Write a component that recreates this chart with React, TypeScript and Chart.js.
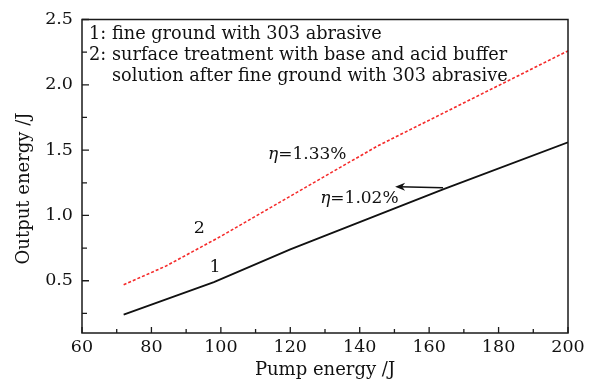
import React, { useEffect, useRef } from "react";
import { Chart, registerables } from "chart.js";

Chart.register(...registerables);

// ---- data ----
const pumpEnergy1 = [72, 98, 120, 164, 200];
const outputEnergy1 = [0.24, 0.49, 0.74, 1.2, 1.56];
const pumpEnergy2 = [72, 84, 100, 113, 145, 200];
const outputEnergy2 = [0.47, 0.61, 0.84, 1.04, 1.53, 2.26];
const xMajorTicks = [60, 80, 100, 120, 140, 160, 180, 200];
const xMinorTicks = [70, 90, 110, 130, 150, 170, 190];
const yMajorTicks = [0.5, 1.0, 1.5, 2.0, 2.5];
const yMinorTicks = [0.25, 0.75, 1.25, 1.75, 2.25];
const legendLines = [
  { tag: "1:", text: "fine ground with 303 abrasive" },
  { tag: "2:", text: "surface treatment with base and acid buffer" },
  { tag: "", text: "solution after fine ground with 303 abrasive" },
];
const xTitle = "Pump energy /J";
const yTitle = "Output energy /J";
const etaLabels = [
  { value: "=1.33%", x: 113.6, y: 1.432 },
  { value: "=1.02%", x: 128.6, y: 1.098 },
];
const curveLabels = [
  { text: "2", x: 93.8, y: 0.864 },
  { text: "1", x: 98.3, y: 0.568 },
];
const arrowFrom = { x: 164, y: 1.212 };
const arrowTo = { x: 150.2, y: 1.22 };

const FONT = '"DejaVu Serif", "Liberation Serif", serif';

const decorPlugin = {
  id: "decor",
  afterDraw(chart: any) {
    const ctx = chart.ctx as CanvasRenderingContext2D;
    const { left, right, top, bottom } = chart.chartArea;
    const xs = chart.scales.x;
    const ys = chart.scales.y;
    ctx.save();
    // frame
    ctx.strokeStyle = "#1a1a1a";
    ctx.lineWidth = 1.5;
    ctx.strokeRect(left, top, right - left, bottom - top);
    // ticks
    ctx.lineWidth = 1.3;
    ctx.beginPath();
    xMajorTicks.forEach((v) => {
      const px = xs.getPixelForValue(v);
      ctx.moveTo(px, bottom);
      ctx.lineTo(px, bottom - 6);
    });
    xMinorTicks.forEach((v) => {
      const px = xs.getPixelForValue(v);
      ctx.moveTo(px, bottom);
      ctx.lineTo(px, bottom - 4);
    });
    yMajorTicks.forEach((v) => {
      const py = ys.getPixelForValue(v);
      ctx.moveTo(left, py);
      ctx.lineTo(left + 7, py);
    });
    yMinorTicks.forEach((v) => {
      const py = ys.getPixelForValue(v);
      ctx.moveTo(left, py);
      ctx.lineTo(left + 5, py);
    });
    ctx.stroke();

    ctx.fillStyle = "#111";
    ctx.textBaseline = "alphabetic";
    // legend text
    ctx.font = `17.7px ${FONT}`;
    legendLines.forEach((l, i) => {
      const by = top + 19 + i * 21;
      ctx.textAlign = "left";
      if (l.tag) ctx.fillText(l.tag, left + 7, by);
      ctx.fillText(l.text, left + 30, by);
    });
    // curve labels
    ctx.font = `17.5px ${FONT}`;
    ctx.textAlign = "center";
    curveLabels.forEach((c) => {
      ctx.fillText(c.text, xs.getPixelForValue(c.x), ys.getPixelForValue(c.y));
    });
    // eta labels
    ctx.textAlign = "left";
    etaLabels.forEach((e) => {
      const px = xs.getPixelForValue(e.x);
      const py = ys.getPixelForValue(e.y);
      ctx.font = `italic 17px ${FONT}`;
      ctx.fillText("η", px, py);
      const w = ctx.measureText("η").width;
      ctx.font = `17px ${FONT}`;
      ctx.fillText(e.value, px + w, py);
    });
    // arrow
    const ax0 = xs.getPixelForValue(arrowFrom.x);
    const ay0 = ys.getPixelForValue(arrowFrom.y);
    const ax1 = xs.getPixelForValue(arrowTo.x);
    const ay1 = ys.getPixelForValue(arrowTo.y);
    ctx.strokeStyle = "#111";
    ctx.lineWidth = 1.6;
    ctx.beginPath();
    ctx.moveTo(ax0, ay0);
    ctx.lineTo(ax1 + 4, ay1);
    ctx.stroke();
    ctx.beginPath();
    ctx.moveTo(ax1, ay1);
    ctx.lineTo(ax1 + 10, ay1 - 4);
    ctx.lineTo(ax1 + 7, ay1);
    ctx.lineTo(ax1 + 10, ay1 + 4);
    ctx.closePath();
    ctx.fill();
    // axis titles
    ctx.font = `18px ${FONT}`;
    ctx.textAlign = "center";
    ctx.textBaseline = "middle";
    ctx.fillText(xTitle, (left + right) / 2, bottom + 37);
    ctx.save();
    ctx.translate(24, top + 169);
    ctx.rotate(-Math.PI / 2);
    ctx.fillText(yTitle, 0, 0);
    ctx.restore();
    ctx.restore();
  },
};

export default function App() {
  const ref = useRef<HTMLCanvasElement | null>(null);
  useEffect(() => {
    document.body.style.margin = "0";
    const canvas = ref.current;
    if (!canvas) return;
    const chart = new Chart(canvas, {
      type: "line",
      data: {
        datasets: [
          {
            label: "1",
            data: pumpEnergy1.map((x, i) => ({ x, y: outputEnergy1[i] })),
            borderColor: "#111",
            borderWidth: 1.8,
            pointRadius: 0,
            tension: 0,
            fill: false,
          },
          {
            label: "2",
            data: pumpEnergy2.map((x, i) => ({ x, y: outputEnergy2[i] })),
            borderColor: "#f52a2a",
            borderWidth: 1.6,
            borderDash: [3, 2],
            pointRadius: 0,
            tension: 0,
            fill: false,
          },
        ],
      },
      options: {
        responsive: false,
        animation: false,
        layout: { padding: { left: 0, right: 24, top: 17, bottom: 0 } },
        plugins: { legend: { display: false }, tooltip: { enabled: false } },
        scales: {
          x: {
            type: "linear",
            min: 60,
            max: 200,
            afterBuildTicks: (s: any) => {
              s.ticks = xMajorTicks.map((v) => ({ value: v }));
            },
            afterFit: (s: any) => {
              s.height = 50;
            },
            ticks: {
              color: "#111",
              font: { family: FONT, size: 17.5 },
              padding: 4,
              maxRotation: 0,
              callback: (v: any) => String(v),
            },
            grid: { display: false, drawTicks: false },
            border: { display: false },
          },
          y: {
            type: "linear",
            min: 0.1,
            max: 2.5,
            afterBuildTicks: (s: any) => {
              s.ticks = yMajorTicks.map((v) => ({ value: v }));
            },
            afterFit: (s: any) => {
              s.width = 82;
            },
            ticks: {
              color: "#111",
              font: { family: FONT, size: 17.5 },
              padding: 9,
              callback: (v: any) => Number(v).toFixed(1),
            },
            grid: { display: false, drawTicks: false },
            border: { display: false },
          },
        },
      },
      plugins: [decorPlugin],
    } as any);
    return () => chart.destroy();
  }, []);
  return <canvas ref={ref} width={592} height={383} style={{ display: "block" }} />;
}
